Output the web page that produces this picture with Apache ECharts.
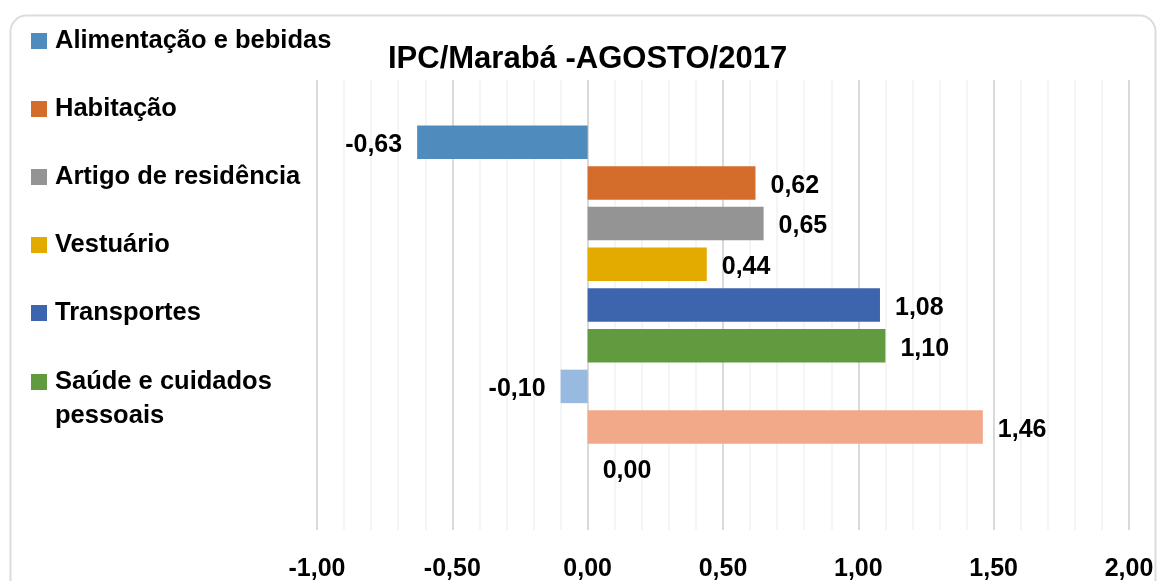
<!DOCTYPE html>
<html>
<head>
<meta charset="utf-8">
<script src="https://cdn.jsdelivr.net/npm/echarts@6/dist/echarts.min.js"></script>
<style>
html,body{margin:0;padding:0;background:#fff;}
#chart{width:1157px;height:581px;}
</style>
</head>
<body>
<div id="chart"></div>
<script>
const title = 'IPC/Marabá -AGOSTO/2017';
const groups = ['Alimentação e bebidas','Habitação','Artigo de residência','Vestuário','Transportes','Saúde e cuidados pessoais','Despesas pessoais','Educação','Comunicação'];
const values = [-0.63, 0.62, 0.65, 0.44, 1.08, 1.10, -0.10, 1.46, 0.00];
const colors = ['#4f8bbd','#d46d2b','#949494','#e3aa00','#3c65ad','#619a3f','#98b9e0','#f1a98a','#8a8a8a'];
const legendTop = ['Alimentação e bebidas','Habitação','Artigo de residência','Vestuário','Transportes'];
const legendBottom = ['Saúde e cuidados pessoais'];
const xMin = -1, xMax = 2, xStep = 0.5;

const FONT = '"Liberation Sans", Arial, sans-serif';
const fmt = v => v.toFixed(2).replace('.', ',');

const chart = echarts.init(document.getElementById('chart'), null, {renderer:'canvas'});
const series = groups.map((name, i) => ({
  name: name,
  type: 'bar',
  data: [values[i]],
  barWidth: 33.5,
  barGap: '21.5%',
  itemStyle: {color: colors[i]},
  label: {
    show: true,
    position: values[i] < 0 ? 'left' : 'right',
    distance: 15,
    offset: [0, 3],
    formatter: p => fmt(p.value),
    color: '#000',
    fontFamily: FONT,
    fontWeight: 'bold',
    fontSize: 25
  },
  emphasis: {disabled: true}
}));

chart.setOption({
  animation: false,
  backgroundColor: '#fff',
  graphic: [{
    type: 'rect', left: 8, top: 13, z: -10,
    shape: {width: 1145, height: 620, r: 16},
    style: {fill: 'none', stroke: '#dcdcdc', lineWidth: 2}
  }],
  title: {
    text: title,
    left: 388, top: 44, padding: 0,
    textStyle: {fontFamily: FONT, fontWeight: 'bold', fontSize: 31, color: '#000', lineHeight: 31}
  },
  legend: [{
    data: legendTop,
    orient: 'vertical', left: 31, top: 28, padding: 0,
    itemWidth: 16, itemHeight: 16, itemGap: 42, icon: 'rect',
    selectedMode: false,
    textStyle: {fontFamily: FONT, fontWeight: 'bold', fontSize: 25.5, color: '#000', lineHeight: 26, padding: [0, 0, 0, 3]}
  }, {
    data: legendBottom,
    orient: 'vertical', left: 31, top: 331, padding: 0,
    itemWidth: 16, itemHeight: 16, icon: 'rect',
    selectedMode: false,
    formatter: n => '\nSaúde e cuidados\npessoais',
    textStyle: {fontFamily: FONT, fontWeight: 'bold', fontSize: 25.5, color: '#000', lineHeight: 34, padding: [0, 0, 0, 3]}
  }],
  grid: {left: 317, right: 28, top: 80, bottom: 51, containLabel: false, outerBoundsMode: 'none'},
  xAxis: {
    type: 'value', min: xMin, max: xMax, interval: xStep,
    axisLine: {show: false}, axisTick: {show: false},
    axisLabel: {formatter: v => fmt(v), fontFamily: FONT, fontWeight: 'bold', fontSize: 25, color: '#000', margin: 27, showMinLabel: true, showMaxLabel: true},
    splitLine: {show: true, lineStyle: {color: '#d9d9d9', width: 2}},
    minorTick: {show: false, splitNumber: 5},
    minorSplitLine: {show: true, lineStyle: {color: '#f2f2f2', width: 1.5}}
  },
  yAxis: {
    type: 'category', data: ['IPC'], inverse: true,
    axisLine: {show: false}, axisTick: {show: false}, axisLabel: {show: false}, splitLine: {show: false}
  },
  series: series
});
</script>
</body>
</html>
